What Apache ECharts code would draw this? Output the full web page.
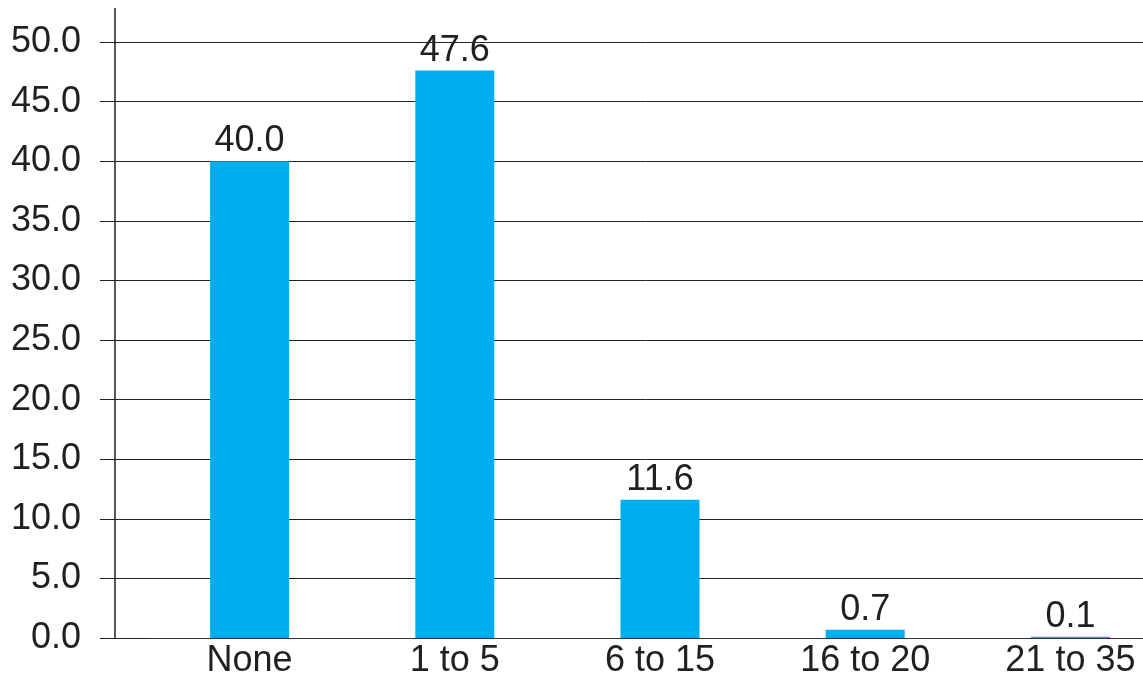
<!DOCTYPE html>
<html>
<head>
<meta charset="utf-8">
<script src="https://cdn.jsdelivr.net/npm/echarts@6/dist/echarts.min.js"></script>
<style>
  html, body { margin: 0; padding: 0; background: #ffffff; }
  #chart { width: 1143px; height: 678px; }
</style>
</head>
<body>
<div id="chart"></div>
<script>
// Categories and percentage values
var categories = ['None', '1 to 5', '6 to 15', '16 to 20', '21 to 35'];
var values = [40.0, 47.6, 11.6, 0.7, 0.1];

// Value axis range
var yMin = 0;
var yMax = 50;
var yStep = 5;

var ink = '#231f20';
var barColor = '#00aeef';
var font = '"Liberation Sans", Arial, Helvetica, sans-serif';

var chart = echarts.init(document.getElementById('chart'));

chart.setOption({
  animation: false,
  backgroundColor: '#ffffff',
  // plot area runs a little past the right edge of the canvas
  grid: {
    left: 147, width: 1026, top: 42, bottom: 40,
    containLabel: false,
    outerBoundsMode: 'none'
  },
  xAxis: {
    type: 'category',
    data: categories,
    boundaryGap: true,
    axisLine: { show: true, lineStyle: { color: '#333333', width: 1 } },
    axisTick: { show: false },
    axisLabel: { color: ink, fontFamily: font, fontSize: 36, margin: 5 }
  },
  yAxis: [
    {
      // gridlines and their short outward ticks
      type: 'value',
      min: yMin, max: yMax, interval: yStep,
      position: 'left',
      axisLine: { show: false },
      axisTick: { show: true, inside: false, length: 47, lineStyle: { color: '#222222', width: 1 } },
      axisLabel: { show: false },
      splitLine: { show: true, lineStyle: { color: '#222222', width: 1 } }
    },
    {
      // vertical axis line with labels
      type: 'value',
      min: yMin, max: yMax, interval: yStep,
      position: 'left',
      offset: 32,
      axisLine: { show: true, lineStyle: { color: '#222222', width: 1.5 } },
      axisTick: { show: false },
      axisLabel: {
        color: ink, fontFamily: font, fontSize: 36, margin: 34,
        formatter: function (v) { return v.toFixed(1); }
      },
      splitLine: { show: false }
    }
  ],
  series: [{
    type: 'bar',
    data: values,
    barWidth: 79,
    itemStyle: { color: barColor },
    label: {
      show: true,
      position: 'top',
      distance: 2,
      color: ink,
      fontFamily: font,
      fontSize: 36,
      formatter: function (p) { return p.value.toFixed(1); }
    }
  }]
});

// extend the vertical axis line above the top gridline
var axisX = 115;
var topY = chart.convertToPixel({ yAxisIndex: 0 }, yMax);
chart.setOption({
  graphic: [{
    type: 'line',
    shape: { x1: axisX, y1: 8, x2: axisX, y2: topY },
    style: { stroke: '#222222', lineWidth: 1.5 }
  }]
});
</script>
</body>
</html>
